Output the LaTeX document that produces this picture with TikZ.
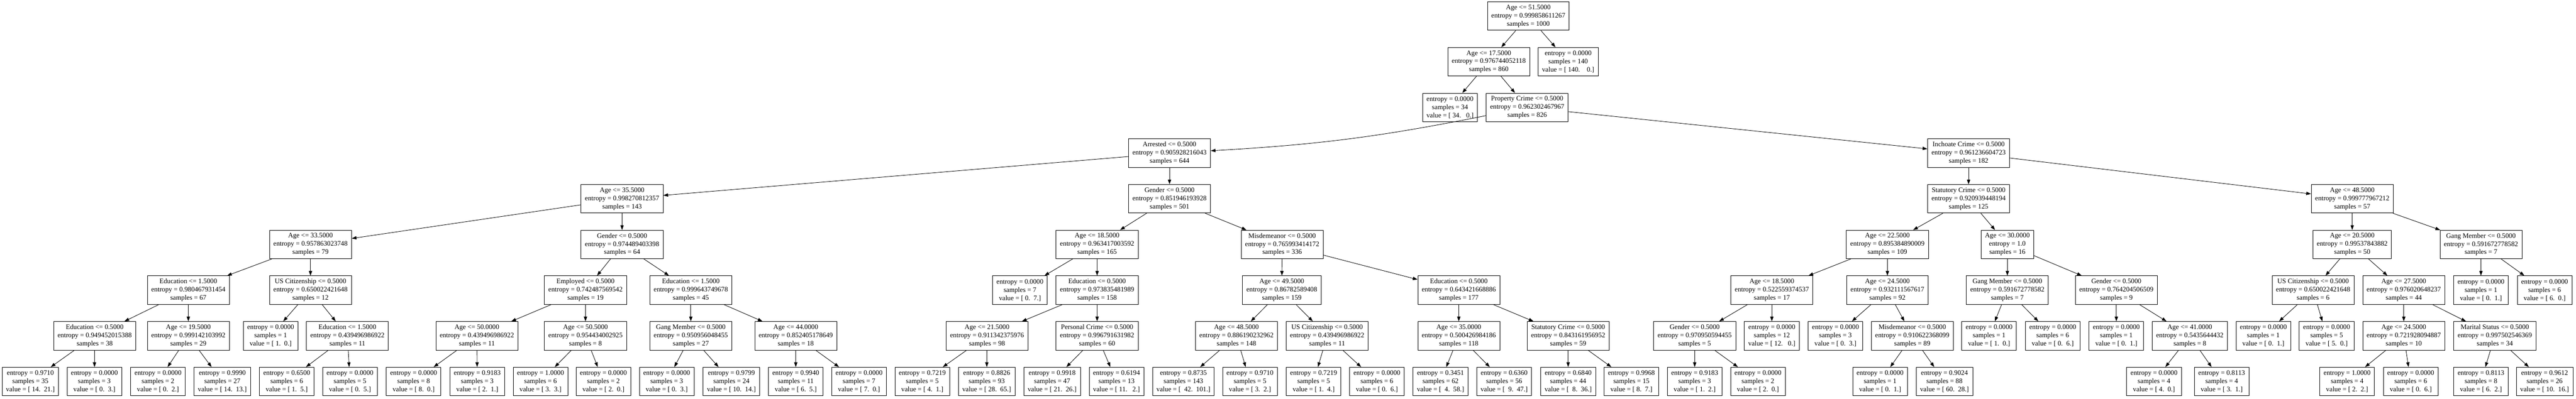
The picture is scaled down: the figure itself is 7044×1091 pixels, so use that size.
\documentclass[tikz,border=0pt]{standalone}
\usepackage{fontspec}
\setmainfont{Liberation Serif}
\usepackage{tikz}
\usetikzlibrary{arrows.meta}

\newcommand{\dsplit}[3]{#1\\entropy = #2\\samples = #3}
\newcommand{\dleaf}[3]{entropy = #1\\samples = #2\\value = [#3]}

\begin{document}
\begin{tikzpicture}[x=0.75pt,y=-0.75pt,
  box/.style={draw,rectangle,line width=0.9pt,inner xsep=8pt,inner ysep=0pt,
    minimum height=58.5pt,align=center,font=\fontsize{14}{16.8}\selectfont},
  >={Triangle[length=9.75pt,width=6.75pt]}, line width=0.9pt]
\useasboundingbox (0,0) rectangle (7044,1091);
% rows at y = 44 + 125 k
\node[box] (n0) at (4179,44) {\dsplit{Age <= 51.5000}{0.999858611267}{1000}};
\node[box] (n1) at (4071,169) {\dsplit{Age <= 17.5000}{0.976744052118}{860}};
\node[box] (n96) at (4288,169) {\dleaf{0.0000}{140}{~140.~~~~0.}};
\node[box] (n2) at (3965,294) {\dleaf{0.0000}{34}{~34.~~~0.}};
\node[box] (n3) at (4176,294) {\dsplit{Property Crime <= 0.5000}{0.962302467967}{826}};
\node[box] (n4) at (3198,419) {\dsplit{Arrested <= 0.5000}{0.905928216043}{644}};
\node[box] (n59) at (5383,419) {\dsplit{Inchoate Crime <= 0.5000}{0.961236604723}{182}};
% depth 4
\node[box] (n5) at (1701,544) {\dsplit{Age <= 35.5000}{0.998270812357}{143}};
\node[box] (n34) at (3198,544) {\dsplit{Gender <= 0.5000}{0.851946193928}{501}};
\node[box] (n60) at (5383,544) {\dsplit{Statutory Crime <= 0.5000}{0.920939448194}{125}};
\node[box] (n81) at (6432,544) {\dsplit{Age <= 48.5000}{0.999777967212}{57}};
% depth 5
\node[box] (n6) at (849,669) {\dsplit{Age <= 33.5000}{0.957863023748}{79}};
\node[box] (n19) at (1701,669) {\dsplit{Gender <= 0.5000}{0.974489403398}{64}};
\node[box] (n35) at (3000,669) {\dsplit{Age <= 18.5000}{0.963417003592}{165}};
\node[box] (n44) at (3506,669) {\dsplit{Misdemeanor <= 0.5000}{0.765993414172}{336}};
\node[box] (n61) at (5161,669) {\dsplit{Age <= 22.5000}{0.895384890009}{109}};
\node[box] (n72) at (5489,669) {\dsplit{Age <= 30.0000}{1.0}{16}};
\node[box] (n82) at (6432,669) {\dsplit{Age <= 20.5000}{0.99537843882}{50}};
\node[box] (n93) at (6784,669) {\dsplit{Gang Member <= 0.5000}{0.591672778582}{7}};
% depth 6
\node[box] (n7) at (515,794) {\dsplit{Education <= 1.5000}{0.980467931454}{67}};
\node[box] (n14) at (849,794) {\dsplit{US Citizenship <= 0.5000}{0.650022421648}{12}};
\node[box] (n20) at (1601,794) {\dsplit{Employed <= 0.5000}{0.742487569542}{19}};
\node[box] (n27) at (1889,794) {\dsplit{Education <= 1.5000}{0.999643749678}{45}};
\node[box] (n36) at (2789,794) {\dleaf{0.0000}{7}{~0.~~7.}};
\node[box] (n37) at (3000,794) {\dsplit{Education <= 0.5000}{0.973835481989}{158}};
\node[box] (n45) at (3505,794) {\dsplit{Age <= 49.5000}{0.86782589408}{159}};
\node[box] (n52) at (3989,794) {\dsplit{Education <= 0.5000}{0.643421668886}{177}};
\node[box] (n62) at (4845,794) {\dsplit{Age <= 18.5000}{0.522559374537}{17}};
\node[box] (n67) at (5161,794) {\dsplit{Age <= 24.5000}{0.932111567617}{92}};
\node[box] (n73) at (5489,794) {\dsplit{Gang Member <= 0.5000}{0.591672778582}{7}};
\node[box] (n76) at (5787,794) {\dsplit{Gender <= 0.5000}{0.764204506509}{9}};
\node[box] (n83) at (6325,794) {\dsplit{US Citizenship <= 0.5000}{0.650022421648}{6}};
\node[box] (n86) at (6573,794) {\dsplit{Age <= 27.5000}{0.976020648237}{44}};
\node[box] (n94) at (6784,794) {\dleaf{0.0000}{1}{~0.~~1.}};
\node[box] (n95) at (6958,794) {\dleaf{0.0000}{6}{~6.~~0.}};
% depth 7
\node[box] (n8) at (259,919) {\dsplit{Education <= 0.5000}{0.949452015388}{38}};
\node[box] (n11) at (515,919) {\dsplit{Age <= 19.5000}{0.999142103992}{29}};
\node[box] (n15) at (740,919) {\dleaf{0.0000}{1}{~1.~~0.}};
\node[box] (n16) at (950,919) {\dsplit{Education <= 1.5000}{0.439496986922}{11}};
\node[box] (n21) at (1304,919) {\dsplit{Age <= 50.0000}{0.439496986922}{11}};
\node[box] (n24) at (1601,919) {\dsplit{Age <= 50.5000}{0.954434002925}{8}};
\node[box] (n28) at (1889,919) {\dsplit{Gang Member <= 0.5000}{0.950956048455}{27}};
\node[box] (n31) at (2176,919) {\dsplit{Age <= 44.0000}{0.852405178649}{18}};
\node[box] (n38) at (2699,919) {\dsplit{Age <= 21.5000}{0.911342375976}{98}};
\node[box] (n41) at (3000,919) {\dsplit{Personal Crime <= 0.5000}{0.996791631982}{60}};
\node[box] (n46) at (3381,919) {\dsplit{Age <= 48.5000}{0.886190232962}{148}};
\node[box] (n49) at (3629,919) {\dsplit{US Citizenship <= 0.5000}{0.439496986922}{11}};
\node[box] (n53) at (3989,919) {\dsplit{Age <= 35.0000}{0.500426984186}{118}};
\node[box] (n56) at (4288,919) {\dsplit{Statutory Crime <= 0.5000}{0.843161956952}{59}};
\node[box] (n63) at (4634,919) {\dsplit{Gender <= 0.5000}{0.970950594455}{5}};
\node[box] (n66) at (4845,919) {\dleaf{0.0000}{12}{~12.~~~0.}};
\node[box] (n68) at (5019,919) {\dleaf{0.0000}{3}{~0.~~3.}};
\node[box] (n69) at (5229,919) {\dsplit{Misdemeanor <= 0.5000}{0.910622368099}{89}};
\node[box] (n74) at (5439,919) {\dleaf{0.0000}{1}{~1.~~0.}};
\node[box] (n75) at (5613,919) {\dleaf{0.0000}{6}{~0.~~6.}};
\node[box] (n77) at (5787,919) {\dleaf{0.0000}{1}{~0.~~1.}};
\node[box] (n78) at (5988,919) {\dsplit{Age <= 41.0000}{0.5435644432}{8}};
\node[box] (n84) at (6189,919) {\dleaf{0.0000}{1}{~0.~~1.}};
\node[box] (n85) at (6362,919) {\dleaf{0.0000}{5}{~5.~~0.}};
\node[box] (n87) at (6573,919) {\dsplit{Age <= 24.5000}{0.721928094887}{10}};
\node[box] (n90) at (6822,919) {\dsplit{Marital Status <= 0.5000}{0.997502546369}{34}};
% depth 8
\node[box] (n9) at (83,1044) {\dleaf{0.9710}{35}{~14.~~21.}};
\node[box] (n10) at (258,1044) {\dleaf{0.0000}{3}{~0.~~3.}};
\node[box] (n12) at (432,1044) {\dleaf{0.0000}{2}{~0.~~2.}};
\node[box] (n13) at (608,1044) {\dleaf{0.9990}{27}{~14.~~13.}};
\node[box] (n17) at (784,1044) {\dleaf{0.6500}{6}{~1.~~5.}};
\node[box] (n18) at (957,1044) {\dleaf{0.0000}{5}{~0.~~5.}};
\node[box] (n22) at (1131,1044) {\dleaf{0.0000}{8}{~8.~~0.}};
\node[box] (n23) at (1305,1044) {\dleaf{0.9183}{3}{~2.~~1.}};
\node[box] (n25) at (1478,1044) {\dleaf{1.0000}{6}{~3.~~3.}};
\node[box] (n26) at (1650,1044) {\dleaf{0.0000}{2}{~2.~~0.}};
\node[box] (n29) at (1823,1044) {\dleaf{0.0000}{3}{~0.~~3.}};
\node[box] (n30) at (2000,1044) {\dleaf{0.9799}{24}{~10.~~14.}};
\node[box] (n32) at (2176,1044) {\dleaf{0.9940}{11}{~6.~~5.}};
\node[box] (n33) at (2349,1044) {\dleaf{0.0000}{7}{~7.~~0.}};
\node[box] (n39) at (2522,1044) {\dleaf{0.7219}{5}{~4.~~1.}};
\node[box] (n40) at (2698,1044) {\dleaf{0.8826}{93}{~28.~~65.}};
\node[box] (n42) at (2877,1044) {\dleaf{0.9918}{47}{~21.~~26.}};
\node[box] (n43) at (3053,1044) {\dleaf{0.6194}{13}{~11.~~~2.}};
\node[box] (n47) at (3236,1044) {\dleaf{0.8735}{143}{~~42.~~101.}};
\node[box] (n48) at (3418,1044) {\dleaf{0.9710}{5}{~3.~~2.}};
\node[box] (n50) at (3592,1044) {\dleaf{0.7219}{5}{~1.~~4.}};
\node[box] (n51) at (3765,1044) {\dleaf{0.0000}{6}{~0.~~6.}};
\node[box] (n54) at (3939,1044) {\dleaf{0.3451}{62}{~~4.~~58.}};
\node[box] (n55) at (4113,1044) {\dleaf{0.6360}{56}{~~9.~~47.}};
\node[box] (n57) at (4288,1044) {\dleaf{0.6840}{44}{~~8.~~36.}};
\node[box] (n58) at (4461,1044) {\dleaf{0.9968}{15}{~8.~~7.}};
\node[box] (n64) at (4634,1044) {\dleaf{0.9183}{3}{~1.~~2.}};
\node[box] (n65) at (4807,1044) {\dleaf{0.0000}{2}{~2.~~0.}};
\node[box] (n70) at (5141,1044) {\dleaf{0.0000}{1}{~0.~~1.}};
\node[box] (n71) at (5317,1044) {\dleaf{0.9024}{88}{~60.~~28.}};
\node[box] (n79) at (5890,1044) {\dleaf{0.0000}{4}{~4.~~0.}};
\node[box] (n80) at (6075,1044) {\dleaf{0.8113}{4}{~3.~~1.}};
\node[box] (n88) at (6418,1044) {\dleaf{1.0000}{4}{~2.~~2.}};
\node[box] (n89) at (6592,1044) {\dleaf{0.0000}{6}{~0.~~6.}};
\node[box] (n91) at (6784,1044) {\dleaf{0.8113}{8}{~6.~~2.}};
\node[box] (n92) at (6958,1044) {\dleaf{0.9612}{26}{~10.~~16.}};
% edges
\draw[->] (n0) -- (n1); \draw[->] (n0) -- (n96);
\draw[->] (n1) -- (n2); \draw[->] (n1) -- (n3);
\draw[->] (n3) to[bend left=4] (n4); \draw[->] (n3) -- (n59);
\draw[->] (n4) -- (n5); \draw[->] (n4) -- (n34);
\draw[->] (n5) -- (n6); \draw[->] (n5) -- (n19);
\draw[->] (n6) -- (n7); \draw[->] (n6) -- (n14);
\draw[->] (n7) -- (n8); \draw[->] (n7) -- (n11);
\draw[->] (n8) -- (n9); \draw[->] (n8) -- (n10);
\draw[->] (n11) -- (n12); \draw[->] (n11) -- (n13);
\draw[->] (n14) -- (n15); \draw[->] (n14) -- (n16);
\draw[->] (n16) -- (n17); \draw[->] (n16) -- (n18);
\draw[->] (n19) -- (n20); \draw[->] (n19) -- (n27);
\draw[->] (n20) -- (n21); \draw[->] (n20) -- (n24);
\draw[->] (n21) -- (n22); \draw[->] (n21) -- (n23);
\draw[->] (n24) -- (n25); \draw[->] (n24) -- (n26);
\draw[->] (n27) -- (n28); \draw[->] (n27) -- (n31);
\draw[->] (n28) -- (n29); \draw[->] (n28) -- (n30);
\draw[->] (n31) -- (n32); \draw[->] (n31) -- (n33);
\draw[->] (n34) -- (n35); \draw[->] (n34) -- (n44);
\draw[->] (n35) -- (n36); \draw[->] (n35) -- (n37);
\draw[->] (n37) -- (n38); \draw[->] (n37) -- (n41);
\draw[->] (n38) -- (n39); \draw[->] (n38) -- (n40);
\draw[->] (n41) -- (n42); \draw[->] (n41) -- (n43);
\draw[->] (n44) -- (n45); \draw[->] (n44) -- (n52);
\draw[->] (n45) -- (n46); \draw[->] (n45) -- (n49);
\draw[->] (n46) -- (n47); \draw[->] (n46) -- (n48);
\draw[->] (n49) -- (n50); \draw[->] (n49) -- (n51);
\draw[->] (n52) -- (n53); \draw[->] (n52) -- (n56);
\draw[->] (n53) -- (n54); \draw[->] (n53) -- (n55);
\draw[->] (n56) -- (n57); \draw[->] (n56) -- (n58);
\draw[->] (n59) -- (n60); \draw[->] (n59) -- (n81);
\draw[->] (n60) -- (n61); \draw[->] (n60) -- (n72);
\draw[->] (n61) -- (n62); \draw[->] (n61) -- (n67);
\draw[->] (n62) -- (n63); \draw[->] (n62) -- (n66);
\draw[->] (n63) -- (n64); \draw[->] (n63) -- (n65);
\draw[->] (n67) -- (n68); \draw[->] (n67) -- (n69);
\draw[->] (n69) -- (n70); \draw[->] (n69) -- (n71);
\draw[->] (n72) -- (n73); \draw[->] (n72) -- (n76);
\draw[->] (n73) -- (n74); \draw[->] (n73) -- (n75);
\draw[->] (n76) -- (n77); \draw[->] (n76) -- (n78);
\draw[->] (n78) -- (n79); \draw[->] (n78) -- (n80);
\draw[->] (n81) -- (n82); \draw[->] (n81) -- (n93);
\draw[->] (n82) -- (n83); \draw[->] (n82) -- (n86);
\draw[->] (n83) -- (n84); \draw[->] (n83) -- (n85);
\draw[->] (n86) -- (n87); \draw[->] (n86) -- (n90);
\draw[->] (n87) -- (n88); \draw[->] (n87) -- (n89);
\draw[->] (n90) -- (n91); \draw[->] (n90) -- (n92);
\draw[->] (n93) -- (n94); \draw[->] (n93) -- (n95);
\end{tikzpicture}
\end{document}
